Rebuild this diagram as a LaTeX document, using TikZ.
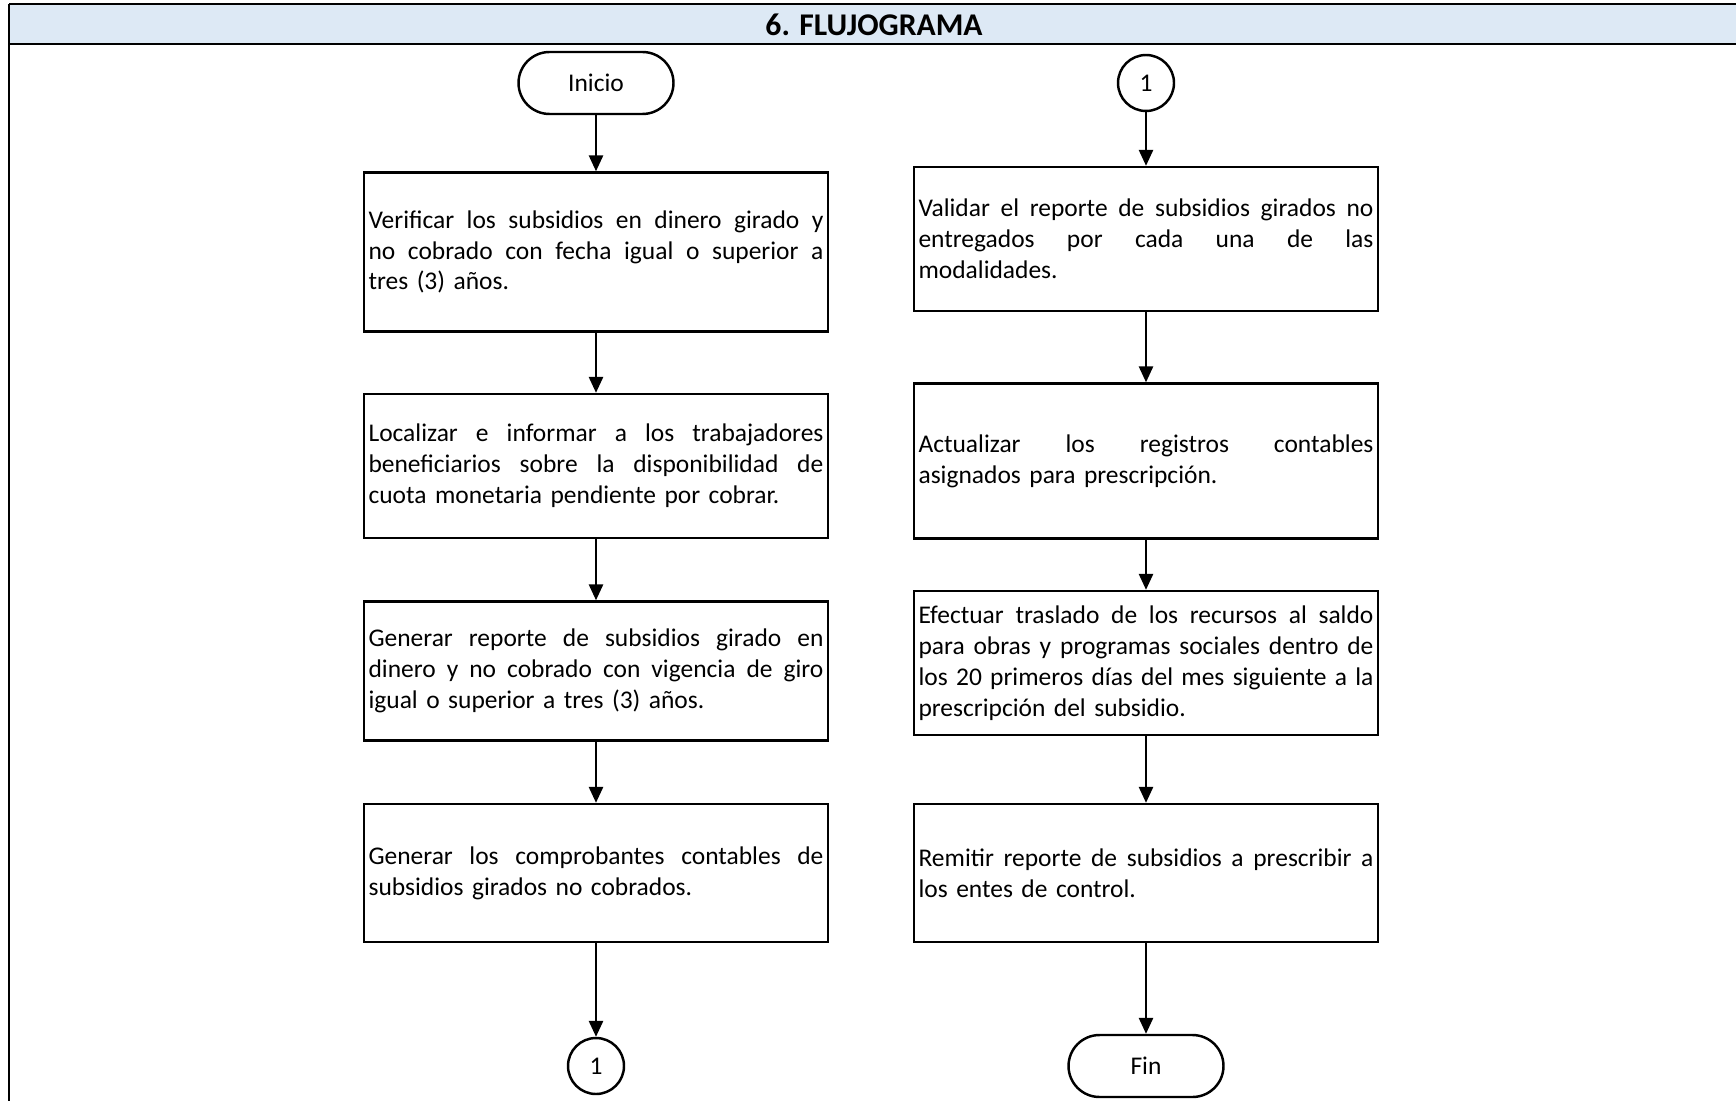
\documentclass[tikz,border=0pt]{standalone}
\usepackage{fontspec}
\setmainfont{Carlito}
\usepackage{xcolor}
\usepackage{tikz}
\usetikzlibrary{positioning, shapes, calc, arrows.meta}

\definecolor{cabecera}{RGB}{221,233,245}

\newcommand{\linea}[1]{{\spaceskip=\fontdimen2\font plus 1fil\makebox[9.1cm][s]{#1}}}

\tikzset{
  proceso/.style={draw, line width=1.4pt, rectangle, text width=9.1cm, inner xsep=0.09cm,
    align=left, font=\fontsize{14.5}{17.6}\selectfont},
  terminal/.style={draw, line width=1.4pt, rectangle, rounded corners=0.62cm,
    minimum width=3.1cm, minimum height=1.24cm, font=\fontsize{14.5}{17.6}\selectfont},
  conector/.style={draw, line width=1.4pt, circle, minimum size=1.12cm, inner sep=0pt,
    font=\fontsize{14.5}{17.6}\selectfont},
  flecha/.style={line width=1.2pt, -{Triangle[length=9pt,width=8pt]}}
}

\begin{document}
\begin{tikzpicture}[x=0.02cm, y=-0.02cm]

\useasboundingbox (0,0) rectangle (1736,1101);

%//cabecera
\fill[cabecera] (9,4) rectangle (1736,44);
\draw[line width=1.6pt] (9,4) -- (1736,4);
\draw[line width=1.6pt] (9,44) -- (1736,44);
\draw[line width=1pt] (9,4) -- (9,1101);
\node (titulo) at (874,25) {\fontsize{18}{20}\selectfont\bfseries 6. FLUJOGRAMA};

%//columna izquierda
\node [terminal] (inicio) at (596,83) {Inicio};

\node [proceso, minimum height=3.18cm] (verificar) at (596,252) {%
\linea{Verificar los subsidios en dinero girado y}\\
\linea{no cobrado con fecha igual o superior a}\\
tres (3) años.};

\node [proceso, minimum height=2.88cm] (localizar) at (596,466) {%
\linea{Localizar e informar a los trabajadores}\\
\linea{beneficiarios sobre la disponibilidad de}\\
cuota monetaria pendiente por cobrar.};

\node [proceso, minimum height=2.78cm] (generar) at (596,671) {%
\linea{Generar reporte de subsidios girado en}\\
\linea{dinero y no cobrado con vigencia de giro}\\
igual o superior a tres (3) años.};

\node [proceso, minimum height=2.76cm] (comprobantes) at (596,873) {%
\linea{Generar los comprobantes contables de}\\
subsidios girados no cobrados.};

\node [conector] (uno) at (596,1066) {1};

%//columna derecha
\node [conector] (unob) at (1146,83) {1};

\node [proceso, minimum height=2.88cm] (validar) at (1146,239) {%
\linea{Validar el reporte de subsidios girados no}\\
\linea{entregados por cada una de las}\\
modalidades.};

\node [proceso, minimum height=3.1cm] (actualizar) at (1146,461) {%
\linea{Actualizar los registros contables}\\
asignados para prescripción.};

\node [proceso, minimum height=2.88cm] (efectuar) at (1146,663) {%
\linea{Efectuar traslado de los recursos al saldo}\\
\linea{para obras y programas sociales dentro de}\\
\linea{los 20 primeros días del mes siguiente a la}\\
prescripción del subsidio.};

\node [proceso, minimum height=2.76cm] (remitir) at (1146,873) {%
\linea{Remitir reporte de subsidios a prescribir a}\\
los entes de control.};

\node [terminal] (fin) at (1146,1066) {Fin};

\draw [flecha] (inicio) -- (verificar);
\draw [flecha] (verificar) -- (localizar);
\draw [flecha] (localizar) -- (generar);
\draw [flecha] (generar) -- (comprobantes);
\draw [flecha] (comprobantes) -- (uno);

\draw [flecha] (unob) -- (validar);
\draw [flecha] (validar) -- (actualizar);
\draw [flecha] (actualizar) -- (efectuar);
\draw [flecha] (efectuar) -- (remitir);
\draw [flecha] (remitir) -- (fin);
\end{tikzpicture}
\end{document}
